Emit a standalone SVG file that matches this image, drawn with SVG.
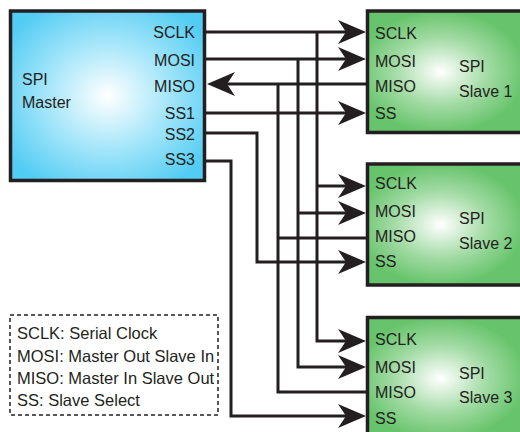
<svg xmlns="http://www.w3.org/2000/svg" width="520" height="432" viewBox="0 0 520 432">
<style>
text{font-family:"Liberation Sans",Arial,sans-serif;font-size:16px;fill:#231f20}
.lg{font-size:16.5px}
.box{stroke:#231f20;stroke-width:3.5}
.wire{fill:none;stroke:#231f20;stroke-width:3;stroke-linejoin:miter}
.arr{marker-end:url(#ah)}
.r{text-anchor:end}
.legend{fill:none;stroke:#231f20;stroke-width:1.5;stroke-dasharray:4 3}
</style>
<defs>
<radialGradient id="gm" cx="0.5" cy="0.5" r="0.62">
<stop offset="0" stop-color="#ffffff"/>
<stop offset="0.5" stop-color="#a6e6fa"/>
<stop offset="1" stop-color="#52ccf3"/>
</radialGradient>
<radialGradient id="gs" cx="0.43" cy="0.5" r="0.5">
<stop offset="0" stop-color="#ffffff"/>
<stop offset="0.55" stop-color="#a3dba5"/>
<stop offset="1" stop-color="#68c46c"/>
</radialGradient>
<marker id="ah" markerUnits="userSpaceOnUse" markerWidth="30" markerHeight="26" viewBox="0 -13 30 26" refX="12" refY="0" orient="auto">
<path d="M0,-12 L28,0 L0,12 L8,0 Z" fill="#231f20"/>
</marker>
</defs>

<g id="master">
<rect class="box" x="10.5" y="11" width="194" height="169.5" fill="url(#gm)"/>
<text x="22" y="85">SPI</text>
<text x="22" y="108">Master</text>
<text class="r" x="195" y="38">SCLK</text>
<text class="r" x="195" y="66">MOSI</text>
<text class="r" x="195" y="92">MISO</text>
<text class="r" x="195" y="119">SS1</text>
<text class="r" x="195" y="140">SS2</text>
<text class="r" x="195" y="165">SS3</text>
</g>

<g id="slave1">
<rect class="box" x="367.5" y="11" width="170" height="121.5" fill="url(#gs)"/>
<text x="375" y="39">SCLK</text>
<text x="375" y="67">MOSI</text>
<text x="375" y="92">MISO</text>
<text x="375" y="119">SS</text>
<text x="459" y="72">SPI</text>
<text x="459" y="97">Slave 1</text>
</g>

<g id="slave2">
<rect class="box" x="367.5" y="164" width="170" height="121" fill="url(#gs)"/>
<text x="375" y="189">SCLK</text>
<text x="375" y="217">MOSI</text>
<text x="375" y="242">MISO</text>
<text x="375" y="267">SS</text>
<text x="459" y="224">SPI</text>
<text x="459" y="249">Slave 2</text>
</g>

<g id="slave3">
<rect class="box" x="367.5" y="317.5" width="170" height="122" fill="url(#gs)"/>
<text x="375" y="345">SCLK</text>
<text x="375" y="373">MOSI</text>
<text x="375" y="398">MISO</text>
<text x="375" y="424">SS</text>
<text x="459" y="379">SPI</text>
<text x="459" y="403">Slave 3</text>
</g>

<g id="connectors">
<path class="wire arr" d="M206,32 H350"/>
<path class="wire arr" d="M317,32 V341 H350"/>
<path class="wire arr" d="M317,186 H350"/>
<path class="wire arr" d="M206,59 H350"/>
<path class="wire arr" d="M298,59 V367 H350"/>
<path class="wire arr" d="M298,213 H350"/>
<path class="wire arr" d="M366,84 H223"/>
<path class="wire" d="M278,84 V392 H366"/>
<path class="wire" d="M278,238 H366"/>
<path class="wire arr" d="M206,113 H350"/>
<path class="wire arr" d="M206,133 H257 V262 H350"/>
<path class="wire arr" d="M206,161 H231 V416 H350"/>
</g>

<g id="legend">
<rect class="legend" x="10" y="315" width="208" height="100"/>
<text class="lg" x="17" y="339">SCLK: Serial Clock</text>
<text class="lg" x="17" y="361.5">MOSI: Master Out Slave In</text>
<text class="lg" x="17" y="384">MISO: Master In Slave Out</text>
<text class="lg" x="17" y="406">SS: Slave Select</text>
</g>
</svg>
